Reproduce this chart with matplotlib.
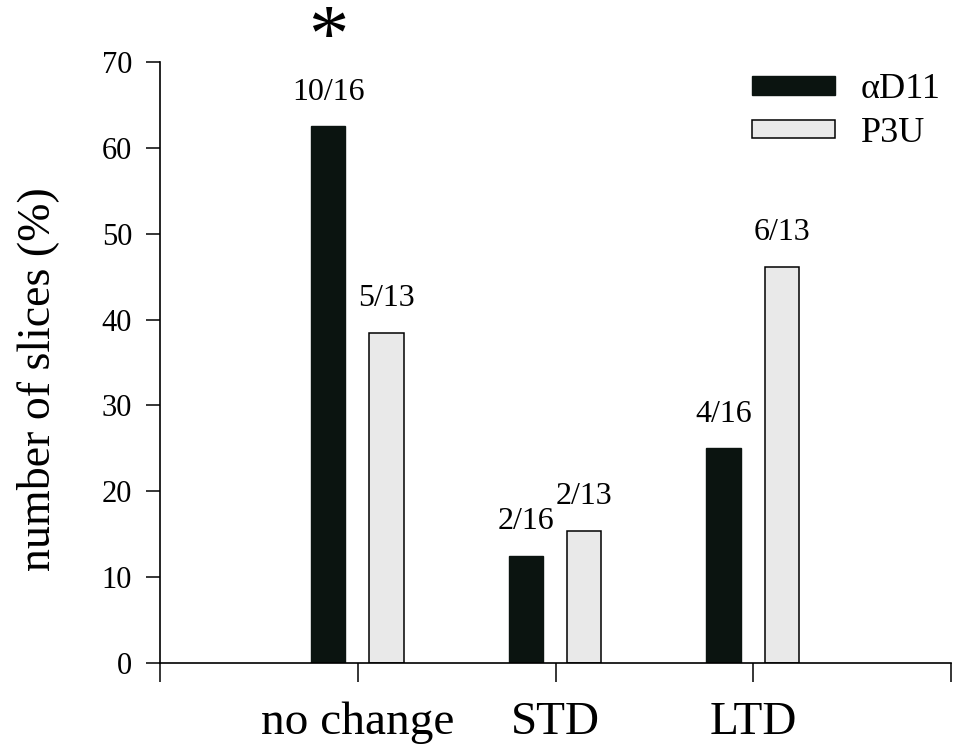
import matplotlib
matplotlib.use("Agg")
import matplotlib.pyplot as plt
import numpy as np

# data (counts / totals per outcome)
categories = ["no change", "STD", "LTD"]
ad11_counts = [10, 2, 4]
ad11_totals = [16, 16, 16]
p3u_counts = [5, 2, 6]
p3u_totals = [13, 13, 13]
series_names = ["\u03b1D11", "P3U"]

ad11_pct = [100.0 * c / t for c, t in zip(ad11_counts, ad11_totals)]
p3u_pct = [100.0 * c / t for c, t in zip(p3u_counts, p3u_totals)]

plt.rcParams["font.family"] = ["Liberation Serif", "DejaVu Serif"]

fig = plt.figure(figsize=(9.56, 7.44), dpi=100)
ax = fig.add_axes([160 / 956, 81 / 744, 791 / 956, 601 / 744])

x = np.arange(1, len(categories) + 1)
w = 0.175
b1 = ax.bar(x - 0.15, ad11_pct, w, color="#0b1410", edgecolor="#0b1410",
            linewidth=1, label=series_names[0], zorder=2)
b2 = ax.bar(x + 0.145, p3u_pct, w, color="#e9e9e9", edgecolor="black",
            linewidth=1.1, label=series_names[1], zorder=2)

# fraction labels above bars
for bars, cnt, tot in [(b1, ad11_counts, ad11_totals), (b2, p3u_counts, p3u_totals)]:
    for r, c, t in zip(bars, cnt, tot):
        ax.annotate(f"{c}/{t}", (r.get_x() + r.get_width() / 2, r.get_height()),
                    xytext=(0, 14), textcoords="offset points",
                    ha="center", va="bottom", fontsize=23)

# significance star above "no change" aD11 bar
ax.text(b1[0].get_x() + b1[0].get_width() / 2, 76.8, "*", ha="center",
        va="top", fontsize=58, clip_on=False)

ax.set_xlim(0, 4)
ax.set_ylim(0, 70)
ax.set_xticks([0, 1, 2, 3, 4])
ax.set_xticklabels([""] + categories + [""], fontsize=34)
ax.set_yticks(np.arange(0, 71, 10))
ax.tick_params(axis="y", direction="out", length=10, width=1.1, pad=10, labelsize=22)
ax.tick_params(axis="x", direction="out", length=14, width=1.1, pad=14)
ax.set_ylabel("number of slices (%)", fontsize=33)
ax.yaxis.set_label_coords(-0.128, 0.472)

for s in ["top", "right"]:
    ax.spines[s].set_visible(False)
for s in ["left", "bottom"]:
    ax.spines[s].set_linewidth(1.2)

ax.legend(loc="upper right", bbox_to_anchor=(1.005, 1.005), frameon=False,
          fontsize=26, handlelength=2.3, handleheight=0.4, handletextpad=0.7,
          labelspacing=0.3, borderaxespad=0)

fig.savefig("out.png", dpi=100)
